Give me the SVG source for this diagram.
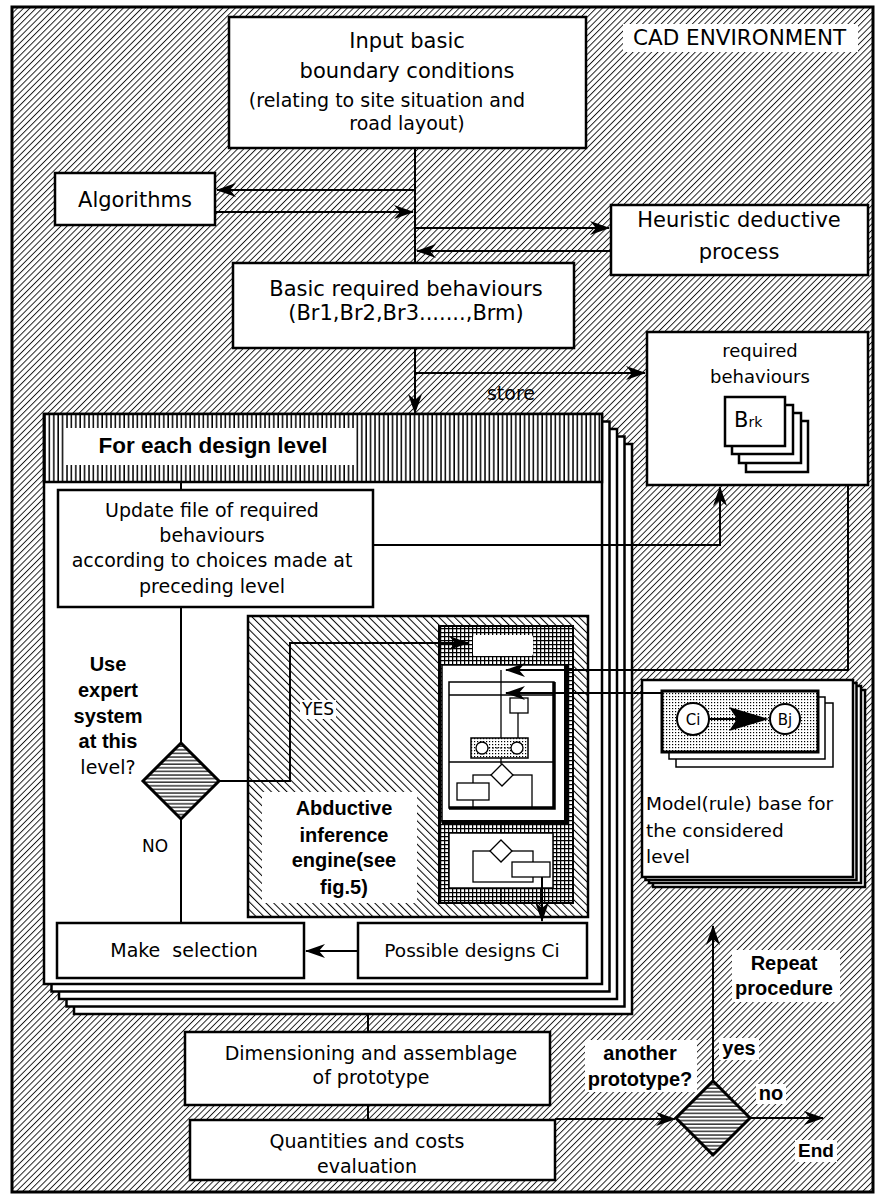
<svg xmlns="http://www.w3.org/2000/svg" width="876" height="1195" viewBox="0 0 876 1195">
<style>
.t{font-family:"DejaVu Sans",Verdana,sans-serif;font-size:19px;fill:#000;text-anchor:middle}
.b{font-family:"Liberation Sans",Arial,sans-serif;font-weight:bold;font-size:20px;fill:#000;text-anchor:middle}
.box{fill:#fff;stroke:#000;stroke-width:2.5}
.wb{fill:#fff;stroke:none}
.ln{fill:none;stroke:#000;stroke-width:2}
.thin{fill:none;stroke:#000;stroke-width:1.3}
</style>
<defs>
<pattern id="hd" width="4.4" height="4.4" patternUnits="userSpaceOnUse" patternTransform="rotate(45)">
<rect width="4.4" height="4.4" fill="#fff"/><line x1="0.5" y1="0" x2="0.5" y2="4.4" stroke="#000" stroke-width="0.85"/>
</pattern>
<pattern id="hb" width="5.5" height="5.5" patternUnits="userSpaceOnUse" patternTransform="rotate(-45)">
<rect width="5.5" height="5.5" fill="#fff"/><line x1="0.5" y1="0" x2="0.5" y2="5.5" stroke="#000" stroke-width="1"/>
</pattern>
<pattern id="hv" width="4.4" height="10" patternUnits="userSpaceOnUse">
<rect width="4.4" height="10" fill="#fff"/><line x1="1" y1="0" x2="1" y2="10" stroke="#000" stroke-width="1.5"/>
</pattern>
<pattern id="hh" width="10" height="3.6" patternUnits="userSpaceOnUse">
<rect width="10" height="3.6" fill="#fff"/><line x1="0" y1="1" x2="10" y2="1" stroke="#000" stroke-width="1.2"/>
</pattern>
<pattern id="grid" width="4" height="4" patternUnits="userSpaceOnUse">
<rect width="4" height="4" fill="#fff"/><path d="M0.6,0V4M0,0.6H4" stroke="#000" stroke-width="1.3"/>
</pattern>
<pattern id="dots" width="3" height="3" patternUnits="userSpaceOnUse">
<rect width="3" height="3" fill="#fff"/><rect x="0" y="0" width="1.2" height="1.2" fill="#000"/>
</pattern>
<marker id="ah" viewBox="0 0 20 14" refX="19" refY="7" markerWidth="20" markerHeight="14" markerUnits="userSpaceOnUse" orient="auto">
<path d="M0,0 L20,7 L0,14 L6,7 z" fill="#000"/>
</marker>
</defs>

<rect width="876" height="1195" fill="#fff"/>

<g id="cad-environment">
<rect x="12" y="7" width="861" height="1185" fill="url(#hd)" stroke="#000" stroke-width="3"/>
<rect class="wb" x="623" y="24" width="235" height="28"/>
<text class="t" x="633" y="45" style="text-anchor:start;font-size:21.5px">CAD ENVIRONMENT</text>
</g>

<g id="input-boundary">
<rect class="box" x="229" y="17" width="357" height="131"/>
<text class="t" x="407" y="48" style="font-size:21px">Input basic</text>
<text class="t" x="407" y="78" style="font-size:21px">boundary conditions</text>
<text class="t" x="387" y="107" style="font-size:19px">(relating to site situation and</text>
<text class="t" x="407" y="130" style="font-size:19px">road layout)</text>
</g>

<g id="algorithms">
<rect class="box" x="55" y="173" width="160" height="52"/>
<text class="t" x="135" y="207" style="font-size:21px">Algorithms</text>
</g>

<g id="heuristic">
<rect class="box" x="611" y="205" width="257" height="70"/>
<text class="t" x="739" y="227" style="font-size:21px">Heuristic deductive</text>
<text class="t" x="739" y="259" style="font-size:21px">process</text>
</g>

<g id="basic-behaviours">
<rect class="box" x="233" y="263" width="341" height="85"/>
<text class="t" x="406" y="296" style="font-size:21px">Basic required behaviours</text>
<text class="t" x="406" y="320" style="font-size:21px">(Br1,Br2,Br3.......,Brm)</text>
</g>

<g id="required-store">
<rect class="box" x="647" y="332" width="221" height="153"/>
<text class="t" x="760" y="357" style="font-size:18px">required</text>
<text class="t" x="760" y="383" style="font-size:18px">behaviours</text>
<rect class="box" x="746" y="421" width="62" height="51" stroke-width="2"/>
<rect class="box" x="739" y="413" width="62" height="50" stroke-width="2"/>
<rect class="box" x="732" y="405" width="61" height="49" stroke-width="2"/>
<rect class="box" x="725" y="397" width="60" height="49" stroke-width="2.5"/>
<text class="t" x="734" y="427" style="text-anchor:start;font-size:21px">B<tspan style="font-size:14px">rk</tspan></text>
</g>

<g id="design-level">
<rect class="box" x="74" y="444" width="558" height="570" stroke-width="2"/>
<rect class="box" x="66.5" y="436.5" width="558" height="570" stroke-width="2"/>
<rect class="box" x="59" y="429" width="558" height="570" stroke-width="2"/>
<rect class="box" x="51.5" y="421.5" width="558" height="570" stroke-width="2"/>
<rect class="box" x="44" y="414" width="558" height="570"/>
<rect x="44" y="414" width="558" height="68" fill="url(#hv)" stroke="#000" stroke-width="2.5"/>
<rect class="wb" x="66" y="428" width="288" height="37"/>
<text class="b" x="213" y="453" style="font-size:22.5px">For each design level</text>
</g>

<g id="update-file">
<rect class="box" x="58" y="490" width="315" height="117"/>
<text class="t" x="212" y="517">Update file of required</text>
<text class="t" x="212" y="542">behaviours</text>
<text class="t" x="212" y="567">according to choices made at</text>
<text class="t" x="212" y="593">preceding level</text>
</g>

<g id="expert-decision">
<polygon points="181,743 219,781 181,819 143,781" fill="url(#hh)" stroke="#000" stroke-width="3"/>
<text class="b" x="108" y="671">Use</text>
<text class="b" x="108" y="697">expert</text>
<text class="b" x="108" y="723">system</text>
<text class="b" x="108" y="748">at this</text>
<text class="t" x="108" y="774">level?</text>
<text class="t" x="155" y="852" style="font-size:17px">NO</text>
</g>

<g id="abductive-engine">
<rect x="248" y="616" width="340" height="301" fill="url(#hb)" stroke="#000" stroke-width="2.5"/>
<rect class="wb" x="262" y="792" width="155" height="111"/>
<text class="b" x="344" y="815">Abductive</text>
<text class="b" x="344" y="842">inference</text>
<text class="b" x="344" y="867">engine(see</text>
<text class="b" x="344" y="894">fig.5)</text>
<rect x="439" y="626" width="134" height="277" fill="url(#grid)" stroke="#000" stroke-width="2"/>
<rect x="473" y="635" width="60" height="21" rx="2" fill="#fff" stroke="none"/>
<line class="thin" x1="501" y1="656" x2="501" y2="665"/>
<rect x="442" y="665" width="124" height="157" fill="#fff" stroke="#000" stroke-width="1.5"/>
<path d="M566,665 V822 H442" fill="none" stroke="#000" stroke-width="4"/>
<rect x="449" y="682" width="105" height="126" fill="#fff" stroke="#000" stroke-width="1.5"/>
<path d="M554,682 V808 H449" fill="none" stroke="#000" stroke-width="3.5"/>
<line class="thin" x1="449" y1="695" x2="554" y2="695"/>
<line class="thin" x1="501" y1="670" x2="501" y2="738"/>
<rect x="510" y="698" width="18" height="15" fill="#fff" stroke="#000" stroke-width="1.3"/>
<line class="thin" x1="518" y1="713" x2="518" y2="740"/>
<rect x="471" y="738" width="57" height="20" fill="url(#dots)" stroke="#000" stroke-width="1.5"/>
<line x1="488" y1="748" x2="511" y2="748" stroke="#000" stroke-width="1" stroke-dasharray="2,2"/>
<circle cx="482" cy="748" r="6" fill="#fff" stroke="#000" stroke-width="1.3"/>
<circle cx="517" cy="748" r="6" fill="#fff" stroke="#000" stroke-width="1.3"/>
<line class="thin" x1="449" y1="762" x2="554" y2="762"/>
<line class="thin" x1="501" y1="758" x2="501" y2="764"/>
<rect x="473" y="775" width="59" height="33" fill="none" stroke="#000" stroke-width="1.3"/>
<polygon points="502,764 513,775 502,786 491,775" fill="#fff" stroke="#000" stroke-width="1.3"/>
<rect x="457" y="783" width="32" height="17" fill="#fff" stroke="#000" stroke-width="1.3"/>
<line class="thin" x1="501" y1="822" x2="501" y2="833"/>
<rect x="449" y="833" width="104" height="55" fill="#fff" stroke="#000" stroke-width="1.5"/>
<rect x="473" y="851" width="60" height="31" fill="none" stroke="#000" stroke-width="1.3"/>
<polygon points="501,840 512,851 501,862 490,851" fill="#fff" stroke="#000" stroke-width="1.3"/>
<rect x="512" y="862" width="38" height="15" fill="#fff" stroke="#000" stroke-width="1.3"/>
<line class="thin" x1="501" y1="888" x2="501" y2="903"/>
</g>

<g id="model-base">
<rect class="box" x="653" y="690" width="212" height="197" stroke-width="1.5"/>
<rect class="box" x="649" y="686" width="212" height="197" stroke-width="1.5"/>
<rect class="box" x="645.5" y="683" width="211" height="197" stroke-width="1.5"/>
<rect class="box" x="642" y="680" width="211" height="197" stroke-width="2"/>
<rect x="676" y="703" width="157" height="64" fill="#fff" stroke="#000" stroke-width="1.5"/>
<rect x="669" y="697" width="156" height="62" fill="#fff" stroke="#000" stroke-width="1.5"/>
<rect x="662" y="691" width="156" height="61" fill="url(#dots)" stroke="#000" stroke-width="3"/>
<circle cx="693" cy="719" r="16" fill="#fff" stroke="#000" stroke-width="2"/>
<circle cx="785" cy="719" r="15" fill="#fff" stroke="#000" stroke-width="2"/>
<text class="t" x="693" y="725" style="font-size:15px">Ci</text>
<text class="t" x="785" y="725" style="font-size:15px">Bj</text>
<line x1="709" y1="719" x2="740" y2="719" stroke="#000" stroke-width="2"/>
<path d="M729,707 L769,719 L729,731 L737,719 z" fill="#000"/>
<text class="t" x="646" y="810" style="text-anchor:start;font-size:18.5px">Model(rule) base for</text>
<text class="t" x="646" y="837" style="text-anchor:start;font-size:18.5px">the considered</text>
<text class="t" x="646" y="863" style="text-anchor:start;font-size:18.5px">level</text>
</g>

<g id="make-selection">
<rect class="box" x="57" y="923" width="247" height="55"/>
<text class="t" x="184" y="957" style="white-space:pre">Make  selection</text>
</g>

<g id="possible-designs">
<rect class="box" x="358" y="923" width="229" height="55"/>
<text class="t" x="472" y="957" style="font-size:18.5px">Possible designs Ci</text>
</g>

<g id="dimensioning">
<rect class="box" x="185" y="1032" width="365" height="73"/>
<text class="t" x="371" y="1060">Dimensioning and assemblage</text>
<text class="t" x="371" y="1084">of prototype</text>
</g>

<g id="quantities">
<rect class="box" x="190" y="1120" width="365" height="60"/>
<text class="t" x="367" y="1148">Quantities and costs</text>
<text class="t" x="367" y="1173">evaluation</text>
</g>

<g id="another-decision">
<rect class="wb" x="585" y="1040" width="112" height="52"/>
<text class="b" x="640" y="1060">another</text>
<text class="b" x="640" y="1086">prototype?</text>
<polygon points="713,1081 750,1118 713,1155 676,1118" fill="url(#hh)" stroke="#000" stroke-width="3"/>
</g>

<g id="repeat-label">
<rect class="wb" x="732" y="950" width="108" height="52"/>
<text class="b" x="784" y="970">Repeat</text>
<text class="b" x="784" y="995">procedure</text>
</g>

<g id="connectors">
<path class="ln" d="M415,148 V263"/>
<path class="ln" d="M415,190 H217" marker-end="url(#ah)"/>
<path class="ln" d="M216,212 H413" marker-end="url(#ah)"/>
<path class="ln" d="M415,228 H609" marker-end="url(#ah)"/>
<path class="ln" d="M611,251 H417" marker-end="url(#ah)"/>
<path class="ln" d="M415,348 V413" marker-end="url(#ah)"/>
<path class="ln" d="M415,373 H645" marker-end="url(#ah)"/>
<text class="t" x="511" y="400" style="font-size:19px">store</text>
<path class="ln" d="M373,545 H720 V487" marker-end="url(#ah)"/>
<path class="ln" d="M848,485 V670 H506" marker-end="url(#ah)"/>
<path class="ln" d="M662,693 H506" marker-end="url(#ah)"/>
<path class="ln" d="M181,482 V490"/>
<path class="ln" d="M181,607 V743"/>
<path class="ln" d="M219,781 H290 V643 H468" marker-end="url(#ah)"/>
<rect class="wb" x="300" y="700" width="36" height="19"/>
<text class="t" x="318" y="715" style="font-size:17px">YES</text>
<path class="ln" d="M181,819 V923"/>
<path class="ln" d="M542,877 V921" marker-end="url(#ah)"/>
<path class="ln" d="M358,951 H306" marker-end="url(#ah)"/>
<path class="ln" d="M368,1014 V1032"/>
<path class="ln" d="M368,1105 V1120"/>
<path class="ln" d="M555,1119 H675" marker-end="url(#ah)"/>
<path class="ln" d="M713,1081 V926" marker-end="url(#ah)"/>
<path class="ln" d="M750,1118 H823" marker-end="url(#ah)"/>
<rect class="wb" x="719" y="1038" width="40" height="22"/>
<text class="b" x="739" y="1055">yes</text>
<rect class="wb" x="756" y="1084" width="30" height="20"/>
<text class="b" x="771" y="1100">no</text>
<rect class="wb" x="795" y="1140" width="42" height="22"/>
<text class="b" x="816" y="1157" style="font-size:19px">End</text>
</g>
</svg>
